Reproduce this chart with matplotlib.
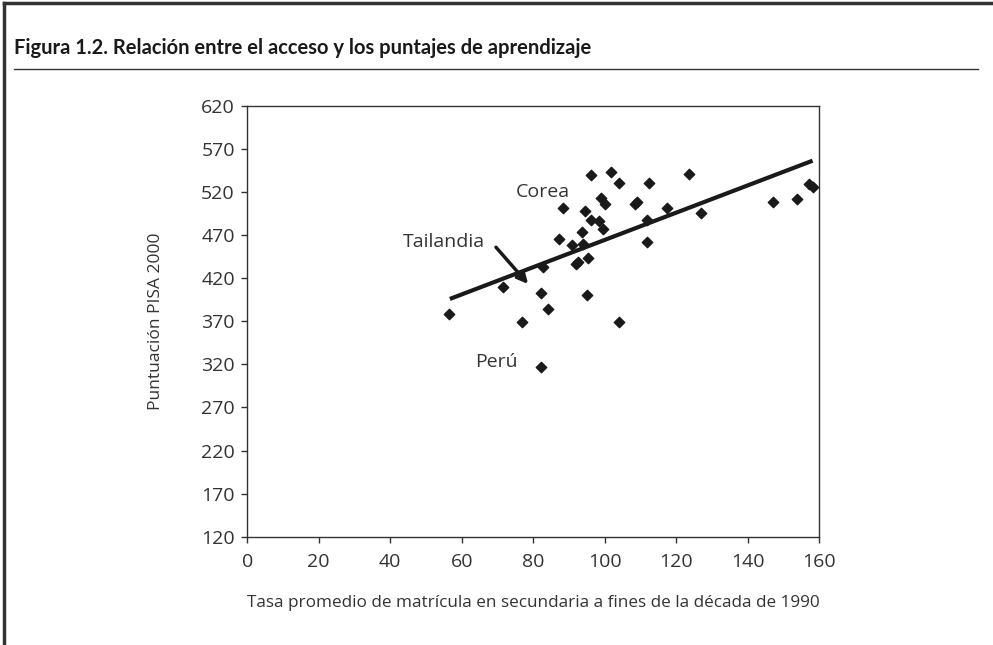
import numpy as np
import matplotlib.pyplot as plt
from matplotlib.lines import Line2D

# enrolment rate (x) vs PISA 2000 score (y)
enrol = [56.5, 71.6, 76.8, 82.2, 82.2, 82.8, 84.1, 87.3, 88.4, 90.8,
         91.9, 92.6, 93.6, 94.0, 94.6, 95.3, 95.2, 96.2, 96.2, 98.5,
         99.0, 99.6, 100.1, 101.8, 104.1, 104.1, 108.5, 109.1, 111.9, 111.9,
         112.4, 117.5, 123.7, 127.0, 147.2, 153.8, 157.2, 158.4]
score = [378, 410, 369, 317, 403, 433, 384, 466, 501, 459,
         437, 439, 474, 460, 498, 443, 401, 540, 488, 487,
         513, 477, 506, 543, 531, 369, 506, 509, 488, 462,
         531, 501, 541, 496, 508, 512, 529, 526]

trend_x = [56.7, 158.2]
trend_y = [396, 556.5]

yticks = [120, 170, 220, 270, 320, 370, 420, 470, 520, 570, 620]
xticks = [0, 20, 40, 60, 80, 100, 120, 140, 160]

plt.rcParams['font.family'] = ['Open Sans', 'DejaVu Sans']

fig = plt.figure(figsize=(9.93, 6.45), dpi=100)
ax = fig.add_axes([0.249, 0.1679, 0.5758, 0.6678])

ax.plot(trend_x, trend_y, color='#1a1a1a', lw=3, solid_capstyle='butt', zorder=2)
ax.scatter(enrol, score, marker='D', s=28, color='#1a1a1a', zorder=3)

# Tailandia arrow and labels
ax.annotate('', xy=(78.6, 413.4), xytext=(69.6, 456),
            arrowprops=dict(arrowstyle='-|>', color='#1a1a1a', lw=2.5,
                            mutation_scale=16, shrinkA=0, shrinkB=0))
ax.text(54.9, 462.5, 'Tailandia', ha='center', va='center', fontsize=14, color='#333333')
ax.text(82.7, 519.8, 'Corea', ha='center', va='center', fontsize=14, color='#333333')
ax.text(69.8, 323.2, 'Perú', ha='center', va='center', fontsize=14, color='#333333')

ax.set_xlim(0, 160)
ax.set_ylim(120, 620)
ax.set_xticks(xticks)
ax.set_yticks(yticks)
ax.tick_params(labelsize=14, colors='#333333', length=4, width=1, direction='out')
ax.tick_params(axis='x', pad=8)
ax.tick_params(axis='y', pad=5)
for s in ax.spines.values():
    s.set_color('#333333')
    s.set_linewidth(1)

ax.set_xlabel('Tasa promedio de matrícula en secundaria a fines de la década de 1990',
              fontsize=12.3, color='#333333', labelpad=17)
ax.set_ylabel('Puntuación PISA 2000', fontsize=12.5, color='#333333', labelpad=27)

# frame and title
fig.add_artist(Line2D([0.004, 0.004], [0, 0.995], color='#333333', lw=2.5))
fig.add_artist(Line2D([0.004, 1.0], [0.995, 0.995], color='#333333', lw=2.5))
fig.add_artist(Line2D([0.014, 0.985], [0.893, 0.893], color='#333333', lw=1))
fig.text(0.014, 0.925, 'Figura 1.2. Relación entre el acceso y los puntajes de aprendizaje',
         family=['Lato', 'DejaVu Sans'], weight='bold',
         fontsize=14.5, color='#1a1a1a', va='center')

fig.savefig('out.png', dpi=100)
